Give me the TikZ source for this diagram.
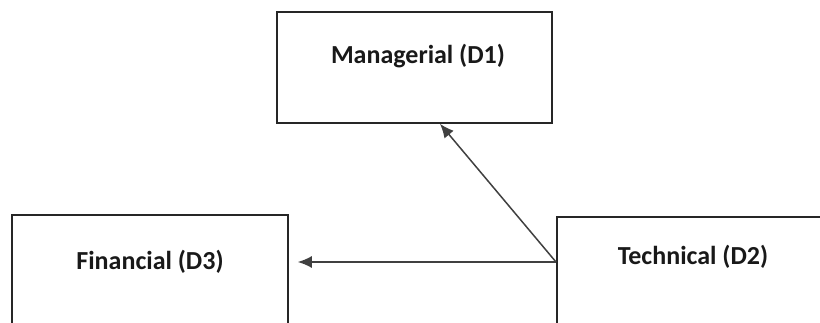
\documentclass[tikz,border=0pt]{standalone}
\usepackage{fontspec}
\setmainfont{Carlito}
\usetikzlibrary{positioning, calc, arrows.meta}

\begin{document}
\begin{tikzpicture}[x=1pt, y=-1pt,
    dimbox/.style={draw=black!85, line width=1.8pt, inner sep=0pt, anchor=north west},
    dimtext/.style={font=\fontsize{26}{31}\selectfont\bfseries, text=black!90},
    link/.style={draw=black!75, line width=1.5pt, -{Latex[length=14pt, width=12pt]}}]

        \useasboundingbox (0,0) rectangle (820,323);
        \clip (0,0) rectangle (820,323);

        % Top box (D1)
        \node[dimbox, minimum width=275pt, minimum height=111pt] (mgr) at (276,11) {};
        \node[dimtext] (mgrtxt) at (418,56) {Managerial (D1)};

        % Lower left box (D3), runs off the bottom
        \node[dimbox, minimum width=276pt, minimum height=140pt] (fin) at (11,214) {};
        \node[dimtext] (fintxt) at (150,262) {Financial (D3)};

        % Lower right box (D2), runs off the right side
        \node[dimbox, minimum width=290pt, minimum height=140pt] (tech) at (556,216) {};
        \node[dimtext] (techtxt) at (693,257) {Technical (D2)};

        % Links leave D2 from one point on its left side
        \coordinate (src) at (tech.north west |- 0,262);
        \coordinate (mgrin) at (mgr.south -| 440,0);
        \draw[link, shorten >=9pt] (src) -- (fin.east |- src);
        \draw[link] (src) -- (mgrin);

    \end{tikzpicture}
\end{document}
